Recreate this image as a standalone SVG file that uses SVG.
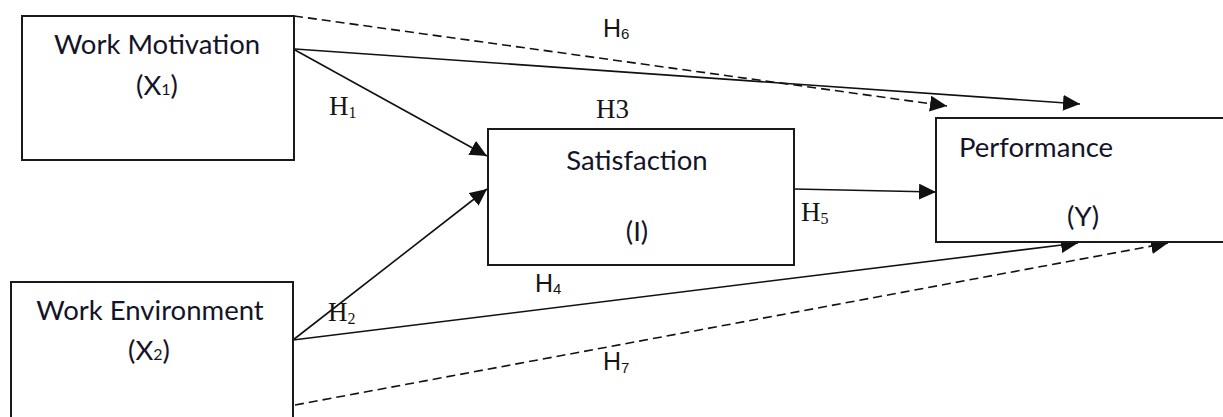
<svg xmlns="http://www.w3.org/2000/svg" width="1223" height="417" viewBox="0 0 1223 417">
<style>
.box{fill:#fff;stroke:#1a1a1a;stroke-width:2}
.lbl{font-family:Lato,"Liberation Sans",sans-serif;font-size:27.5px;fill:#141428}
.ser{font-family:"Liberation Serif",serif;font-size:27px;fill:#141414}
.san{font-family:"Liberation Sans",sans-serif;font-size:25px;fill:#141414}
.ln{stroke:#111;stroke-width:1.6;fill:none}
.dash{stroke-dasharray:9 5}
</style>
<defs>
<marker id="ah" markerUnits="userSpaceOnUse" markerWidth="18" markerHeight="16" refX="17" refY="8" orient="auto">
<path d="M0,0 L17,8 L0,16 Z" fill="#111"/>
</marker>
</defs>
<g id="connectors">
<line class="ln dash" x1="294" y1="16" x2="947" y2="106" marker-end="url(#ah)"/>
<line class="ln" x1="295" y1="49" x2="1080" y2="104" marker-end="url(#ah)"/>
<line class="ln" x1="295" y1="50" x2="487" y2="156" marker-end="url(#ah)"/>
<line class="ln" x1="293" y1="340" x2="487" y2="189" marker-end="url(#ah)"/>
<line class="ln" x1="293" y1="340" x2="1078" y2="243" marker-end="url(#ah)"/>
<line class="ln dash" x1="295" y1="405" x2="1168" y2="243" marker-end="url(#ah)"/>
<line class="ln" x1="794" y1="189" x2="936" y2="192" marker-end="url(#ah)"/>
</g>
<g id="x1">
<rect class="box" x="22" y="16" width="272" height="144"/>
<text class="lbl" x="157" y="54" text-anchor="middle">Work Motivation</text>
<text class="lbl" x="157" y="95" text-anchor="middle">(X<tspan font-size="16">1</tspan>)</text>
</g>
<g id="x2">
<rect class="box" x="11" y="282" width="282" height="150"/>
<text class="lbl" x="150" y="320" text-anchor="middle">Work Environment</text>
<text class="lbl" x="149" y="360" text-anchor="middle">(X<tspan font-size="16">2</tspan>)</text>
</g>
<g id="sat">
<rect class="box" x="488" y="129" width="306" height="136"/>
<text class="lbl" x="637" y="170" text-anchor="middle">Satisfaction</text>
<text class="lbl" x="637" y="241" text-anchor="middle">(I)</text>
</g>
<g id="perf">
<rect class="box" x="936" y="118" width="300" height="124"/>
<text class="lbl" x="959" y="157">Performance</text>
<text class="lbl" x="1083" y="226" text-anchor="middle">(Y)</text>
</g>
<g id="labels">
<text class="ser" x="329" y="115">H<tspan font-size="16" dy="3">1</tspan></text>
<text class="ser" x="328" y="321">H<tspan font-size="16" dy="3">2</tspan></text>
<text class="ser" x="801" y="221">H<tspan font-size="16" dy="3">5</tspan></text>
<text class="ser" x="596" y="118" font-size="17">H3</text>
<text class="san" x="603" y="37">H<tspan font-size="15" dy="2">6</tspan></text>
<text class="san" x="535" y="292">H<tspan font-size="15" dy="2">4</tspan></text>
<text class="san" x="603" y="370">H<tspan font-size="15" dy="3">7</tspan></text>
</g>
</svg>
